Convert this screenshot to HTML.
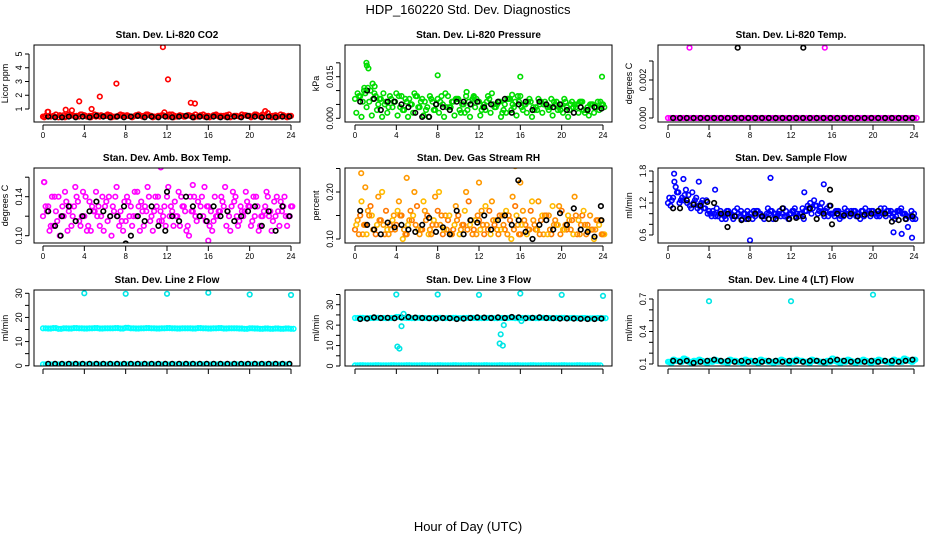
<!DOCTYPE html>
<html><head><meta charset="utf-8"><style>
html,body{margin:0;padding:0;background:#fff;}
svg{display:block;font-family:"Liberation Sans",sans-serif;}
</style></head><body>
<svg id="chart" width="936" height="540" viewBox="0 0 936 540">
<text x="468" y="14" text-anchor="middle" font-size="13">HDP_160220  Std. Dev. Diagnostics</text>
<text x="468" y="531" text-anchor="middle" font-size="13">Hour of Day (UTC)</text>
</svg>
<script>
// ---- data ----
const xTickLabels = [0,4,8,12,16,20,24];
// Panel 1 CO2
const co2RedA = [0.45,0.8,0.5,0.4,0.55,0.6,0.5,0.45,0.55,0.5,0.6,0.45,0.5,0.55,0.45,0.6,0.5,0.45,0.55,0.5,0.6,0.5,0.45,0.55,0.5,0.6,0.45,0.5,0.55,0.5,0.45,0.6,0.5,0.55,0.45,0.5,0.6,0.5,0.45,0.55,0.5,0.6,0.45,0.85,0.5,0.55,0.6,0.45,0.5];
const co2RedB = [0.5,0.45,0.6,0.5,0.45,0.55,0.5,0.6,0.45,0.5,0.55,0.5,0.6,0.45,0.5,0.55,0.5,0.45,0.6,0.5,0.55,0.45,0.5,0.75,0.6,0.5,0.55,0.45,0.5,0.6,0.55,0.5,0.45,0.6,0.5,0.55,0.45,0.5,0.6,0.5,0.45,0.55,0.6,0.7,0.5,0.45,0.55,0.5];
const co2RedC = [0.4,0.5,0.45,0.55,0.4,0.5,0.45,0.6,0.5,0.4,0.45,0.55,0.5,0.4,0.45,0.5,0.55,0.4,0.5,0.45,0.6,0.4,0.5,0.55,0.45,0.4,0.5,0.45,0.55,0.4,0.5,0.45,0.4,0.55,0.5,0.45,0.4,0.5,0.45,0.55,0.4,0.6,0.5,0.45,0.4,0.5,0.45,0.4];
const co2Black = [0.45,0.4,0.4,0.45,0.4,0.45,0.4,0.5,0.45,0.4,0.45,0.4,0.45,0.5,0.4,0.45,0.4,0.45,0.4,0.45,0.5,0.4,0.45,0.4,0.45,0.4,0.4,0.45,0.4,0.5,0.45,0.4,0.45,0.4,0.45,0.45];
const co2OutHour = [0.45,2.2,2.8,3.5,4.7,5.5,7.1,11.6,12.1,14.3,14.7];
const co2OutVal = [0.8,0.95,0.9,1.55,1.0,1.9,2.85,5.5,3.15,1.45,1.4];
// Panel 2 pressure
const presA = [0.007,0.008,0.009,0.01,0.008,0.007,0.006,0.007,0.009,0.008,0.006,0.005,0.008,0.007,0.004,0.006,0.007,0.005,0.008,0.006,0.007,0.005,0.006,0.008,0.006,0.005,0.007,0.004,0.006,0.005,0.007,0.006,0.008,0.005,0.006,0.004,0.006,0.005,0.007,0.006,0.005,0.004,0.006,0.005,0.006,0.004,0.005,0.006,0.005];
const presB = [0.009,0.006,0.011,0.007,0.005,0.009,0.004,0.006,0.008,0.003,0.007,0.009,0.004,0.006,0.008,0.003,0.006,0.009,0.004,0.007,0.002,0.008,0.005,0.007,0.003,0.006,0.009,0.005,0.002,0.007,0.005,0.008,0.003,0.006,0.004,0.007,0.005,0.003,0.006,0.004,0.007,0.003,0.005,0.006,0.002,0.005,0.004,0.006];
const presC = [0.002,0.0005,0.004,0.001,0.003,0.0005,0.002,0.004,0.001,0.003,0.0005,0.002,0.004,0.001,0.0005,0.003,0.002,0.0005,0.004,0.001,0.003,0.002,0.0005,0.004,0.001,0.003,0.002,0.004,0.0005,0.002,0.003,0.001,0.004,0.002,0.0005,0.003,0.002,0.004,0.001,0.003,0.002,0.0005,0.004,0.002,0.003,0.001,0.002,0.003,0.004];
const presD = [0.008,0.01,0.006,0.009,0.007,0.005,0.008,0.006,0.004,0.007,0.005,0.008,0.006,0.003,0.007,0.005,0.008,0.004,0.006,0.007,0.005,0.003,0.007,0.006,0.004,0.008,0.005,0.006,0.003,0.007,0.004,0.006,0.005,0.007,0.003,0.005,0.006,0.004,0.005,0.003,0.006,0.005,0.004,0.006,0.003,0.005,0.004,0.005];
const presBlack = [0.006,0.01,0.007,0.003,0.006,0.006,0.005,0.004,0.002,0.0005,0.0005,0.005,0.004,0.003,0.006,0.006,0.005,0.006,0.004,0.005,0.006,0.007,0.002,0.005,0.006,0.003,0.006,0.005,0.004,0.005,0.003,0.002,0.004,0.003,0.004,0.0035];
const presOutHour = [1.1,1.15,1.3,1.7,1.9,0.9,8,10.8,16,23.9,11.5,15.2];
const presOutVal = [0.020,0.019,0.018,0.0125,0.0115,0.011,0.0155,0.0095,0.015,0.015,0.0075,0.0085];
// Panel 3 Li-820 temp
const tempA = [0,0,0,0,0,0,0,0,0,0,0,0,0,0,0,0,0,0,0,0,0,0,0,0,0,0,0,0,0,0,0,0,0,0,0,0,0,0,0,0,0,0,0,0,0,0,0,0,0];
const tempB = [0,0,0,0,0,0,0,0,0,0,0,0,0,0,0,0,0,0,0,0,0,0,0,0,0,0,0,0,0,0,0,0,0,0,0,0,0,0,0,0,0,0,0,0,0,0,0,0,0];
const tempBlack = [0,0,0,0,0,0,0,0,0,0,0,0,0,0,0,0,0,0,0,0,0,0,0,0,0,0,0,0,0,0,0,0,0,0,0,0];
const tempOutHour = [2.1,15.3];
const tempOutVal = [0.0037,0.0037];
const tempBlkOutHour = [6.8,13.2];
const tempBlkOutVal = [0.0037,0.0037];
// Panel 4 box temp
const boxA = [0.12,0.13,0.11,0.14,0.12,0.125,0.13,0.115,0.12,0.135,0.125,0.11,0.13,0.12,0.14,0.125,0.115,0.13,0.12,0.135,0.125,0.12,0.13,0.115,0.14,0.125,0.12,0.13,0.11,0.125,0.135,0.12,0.13,0.115,0.125,0.13,0.12,0.135,0.115,0.125,0.13,0.12,0.11,0.13,0.125,0.12,0.135,0.12,0.13];
const boxB = [0.13,0.11,0.125,0.12,0.135,0.11,0.14,0.12,0.105,0.13,0.12,0.14,0.115,0.13,0.12,0.105,0.135,0.12,0.13,0.11,0.14,0.125,0.115,0.13,0.12,0.135,0.11,0.125,0.14,0.12,0.13,0.115,0.125,0.12,0.14,0.11,0.13,0.12,0.125,0.135,0.115,0.13,0.12,0.14,0.115,0.125,0.13,0.12];
const boxC = [0.155,0.105,0.14,0.1,0.145,0.13,0.15,0.11,0.14,0.105,0.145,0.12,0.135,0.1,0.15,0.115,0.14,0.11,0.145,0.125,0.15,0.105,0.14,0.12,0.15,0.11,0.145,0.13,0.1,0.14,0.12,0.15,0.11,0.14,0.125,0.15,0.105,0.14,0.13,0.145,0.11,0.14,0.12,0.145,0.105,0.14,0.125,0.11,0.13];
const boxD = [0.125,0.14,0.115,0.13,0.105,0.12,0.135,0.145,0.11,0.125,0.13,0.105,0.14,0.125,0.11,0.135,0.12,0.145,0.105,0.13,0.115,0.14,0.125,0.11,0.13,0.12,0.14,0.105,0.125,0.115,0.14,0.13,0.105,0.12,0.135,0.125,0.145,0.11,0.12,0.13,0.14,0.105,0.125,0.12,0.135,0.11,0.14,0.12];
const boxBlack = [0.125,0.11,0.12,0.13,0.115,0.12,0.125,0.135,0.125,0.12,0.12,0.13,0.1,0.12,0.115,0.13,0.11,0.105,0.12,0.115,0.14,0.13,0.12,0.115,0.13,0.12,0.125,0.115,0.12,0.125,0.13,0.11,0.125,0.105,0.13,0.12];
const boxOutHour = [0.1,11.4,16,14.5];
const boxOutVal = [0.155,0.17,0.095,0.152];
const boxBlkOutHour = [1.7,8,12];
const boxBlkOutVal = [0.1,0.092,0.145];
// Panel 5 RH
const rhA = [0.12,0.15,0.13,0.17,0.11,0.14,0.16,0.12,0.13,0.15,0.11,0.14,0.17,0.12,0.15,0.13,0.16,0.11,0.14,0.12,0.15,0.13,0.18,0.12,0.14,0.11,0.16,0.13,0.15,0.12,0.14,0.17,0.11,0.13,0.16,0.12,0.14,0.15,0.11,0.13,0.16,0.12,0.14,0.11,0.15,0.13,0.12,0.14,0.11];
const rhB = [0.14,0.11,0.16,0.12,0.19,0.13,0.11,0.15,0.18,0.12,0.14,0.2,0.11,0.16,0.12,0.19,0.13,0.15,0.11,0.17,0.12,0.2,0.14,0.11,0.16,0.13,0.18,0.12,0.15,0.11,0.19,0.13,0.16,0.12,0.14,0.18,0.11,0.15,0.13,0.17,0.12,0.14,0.19,0.11,0.13,0.15,0.12,0.14];
const rhC = [0.13,0.18,0.11,0.15,0.13,0.2,0.12,0.14,0.16,0.1,0.13,0.15,0.12,0.18,0.11,0.14,0.2,0.12,0.15,0.13,0.11,0.16,0.13,0.14,0.12,0.17,0.11,0.14,0.12,0.16,0.1,0.15,0.13,0.11,0.18,0.12,0.15,0.11,0.17,0.13,0.12,0.15,0.11,0.14,0.16,0.12,0.1,0.13,0.11];
const rhD = [0.11,0.13,0.15,0.12,0.14,0.11,0.13,0.12,0.15,0.11,0.16,0.13,0.12,0.14,0.11,0.13,0.15,0.12,0.11,0.14,0.13,0.12,0.11,0.15,0.13,0.12,0.14,0.11,0.13,0.15,0.12,0.11,0.14,0.12,0.13,0.11,0.15,0.12,0.14,0.11,0.13,0.12,0.15,0.13,0.11,0.12,0.14,0.11];
const rhBlack = [0.16,0.13,0.12,0.11,0.135,0.125,0.13,0.12,0.115,0.13,0.145,0.115,0.125,0.11,0.16,0.11,0.14,0.135,0.15,0.12,0.14,0.15,0.13,0.14,0.115,0.1,0.13,0.14,0.12,0.155,0.13,0.165,0.12,0.115,0.105,0.14];
const rhOutHour = [0.6,1,5,12,15.5,16];
const rhOutVal = [0.24,0.21,0.23,0.22,0.255,0.22];
const rhBlkOutHour = [15.8,23.8];
const rhBlkOutVal = [0.225,0.17];
// Panel 6 sample flow
const sfA = [1.2,1.3,1.4,1.25,1.35,1.2,1.15,1.1,1.05,1.0,1.0,0.95,1.0,1.05,0.95,1.0,1.0,0.95,1.0,0.95,1.05,1.0,0.95,1.05,1.0,0.95,1.0,1.05,1.0,1.15,1.2,1.1,1.0,1.05,1.0,1.05,1.0,1.0,1.05,1.0,1.05,1.0,1.0,1.05,1.0,1.05,1.0,0.95,1.0];
const sfB = [1.15,1.5,1.25,1.45,1.1,1.3,1.2,1.25,0.95,1.1,0.9,1.05,0.95,1.1,0.9,1.05,0.9,1.05,0.95,1.1,0.9,1.0,1.1,0.9,1.05,0.95,0.9,1.1,1.25,1.05,0.95,1.15,0.95,0.9,1.1,0.95,1.05,0.9,1.1,0.95,1.0,1.1,0.95,1.05,0.95,1.1,0.9,1.05];
const sfC = [1.3,1.6,1.2,1.35,1.15,1.25,1.05,1.1,1.0,0.95,1.05,0.9,1.0,0.95,1.05,0.9,1.0,1.05,0.95,1.0,1.05,0.95,1.0,0.95,1.05,1.0,1.1,1.15,1.1,1.0,1.05,0.95,1.0,1.05,0.95,1.0,1.05,1.0,0.95,1.05,1.0,0.95,1.1,1.0,0.9,1.05,1.0,0.95,0.9];
const sfD = [1.25,1.4,1.3,1.2,1.4,1.1,1.25,1.0,1.05,0.95,1.0,1.05,0.9,1.0,1.0,0.95,1.05,1.0,0.9,1.0,1.0,1.05,0.95,1.0,1.1,1.0,1.05,1.2,1.15,1.1,1.05,1.0,1.05,0.95,1.0,1.05,0.95,1.05,1.0,1.05,0.95,1.0,1.05,0.95,1.05,1.0,0.95,0.9];
const sfBlack = [1.1,1.1,1.25,1.17,1.15,1.22,1.2,1.0,1.0,0.95,0.88,0.9,1.0,0.95,0.9,0.9,1.1,0.9,0.92,0.95,1.1,0.9,1.0,1.15,1.0,0.97,1.0,0.95,0.98,1.0,1.05,1.0,0.85,0.88,0.9,0.95];
const sfOutHour = [0.6,1.5,3,4.6,8,10,13.3,22,22.8,23.4,23.8,15.2];
const sfOutVal = [1.75,1.65,1.6,1.45,0.5,1.67,1.4,0.65,0.62,0.75,0.55,1.55];
const sfBlkOutHour = [5.8,15.8,16];
const sfBlkOutVal = [0.75,1.45,0.8];
// Panel 7 line 2
const l2A = [15.5,15.4,15.6,15.3,15.5,15.4,15.6,15.5,15.4,15.5,15.6,15.4,15.5,15.5,15.6,15.4,15.7,15.5,15.4,15.5,15.6,15.5,15.4,15.5,15.6,15.5,15.4,15.5,15.5,15.4,15.6,15.5,15.4,15.5,15.6,15.4,15.5,15.5,15.4,15.3,15.5,15.4,15.3,15.4,15.3,15.4,15.3,15.4,15.3];
const l2B = [0.6,0.5,0.6,0.5,0.5,0.6,0.5,0.6,0.5,0.5,0.6,0.5,0.5,0.6,0.5,0.5,0.6,0.5,0.5,0.6,0.5,0.5,0.6,0.5,0.5,0.6,0.5,0.5,0.6,0.5,0.5,0.6,0.5,0.5,0.6,0.5,0.5,0.6,0.5,0.5,0.6,0.5,0.5,0.6,0.5,0.5,0.6,0.5];
const l2Black = [0.8,0.8,0.8,0.8,0.8,0.8,0.8,0.8,0.8,0.8,0.8,0.8,0.8,0.8,0.8,0.8,0.8,0.8,0.8,0.8,0.8,0.8,0.8,0.8,0.8,0.8,0.8,0.8,0.8,0.8,0.8,0.8,0.8,0.8,0.8,0.8];
const l2OutHour = [4,8,12,16,20,24];
const l2OutVal = [30,29.8,29.8,30.2,29.5,29.3];
// Panel 8 line 3
const l3A = [23.5,23.6,23.4,23.5,23.6,23.5,23.4,23.5,24,23.6,23.5,23.4,23.6,23.5,23.4,23.5,23.6,23.4,23.5,23.6,23.4,23.5,23.6,23.5,23.4,23.5,23.6,23.4,23.5,23.5,23.6,23.4,23.5,23.6,23.5,23.4,23.6,23.5,23.4,23.5,23.6,23.4,23.5,23.4,23.5,23.3,23.4,23.5,23.4];
const l3B = [0.3,0.4,0.3,0.3,0.4,0.3,0.3,0.4,0.3,0.3,0.4,0.3,0.3,0.4,0.3,0.3,0.4,0.3,0.3,0.4,0.3,0.3,0.4,0.3,0.3,0.4,0.3,0.3,0.4,0.3,0.3,0.4,0.3,0.3,0.4,0.3,0.3,0.4,0.3,0.3,0.4,0.3,0.3,0.4,0.3,0.3,0.4,0.3];
const l3Black = [23,23.2,23.8,23.5,23.6,23.4,23.8,24,23.7,23.5,23.4,23.2,23.5,23.4,23,23.2,23.5,23.8,23.7,23.5,23.8,23.5,24,23.8,23.4,23.6,23.8,23.5,23.4,23.2,23.3,23.2,23.1,23,23,23.2];
const l3OutHour = [4,4.1,4.3,4.5,4.7,8,12,14.0,14.1,14.3,14.4,16,16.1,20,24];
const l3OutVal = [35,9.5,8.5,19.5,25.5,35,34.8,11,15.5,10,20,35.5,22,34.8,34.3];
// Panel 9 line 4
const l4A = [0.12,0.14,0.13,0.15,0.12,0.13,0.14,0.12,0.13,0.14,0.13,0.12,0.14,0.13,0.12,0.14,0.13,0.12,0.14,0.13,0.12,0.13,0.14,0.12,0.13,0.14,0.13,0.12,0.14,0.13,0.12,0.13,0.15,0.12,0.13,0.14,0.12,0.13,0.14,0.12,0.13,0.14,0.13,0.12,0.14,0.13,0.15,0.13,0.14];
const l4B = [0.11,0.13,0.12,0.14,0.11,0.12,0.13,0.11,0.12,0.13,0.12,0.11,0.13,0.12,0.11,0.13,0.12,0.11,0.13,0.12,0.11,0.12,0.13,0.11,0.12,0.13,0.12,0.11,0.13,0.12,0.11,0.12,0.13,0.11,0.12,0.13,0.11,0.12,0.13,0.11,0.12,0.13,0.12,0.11,0.13,0.12,0.14,0.12];
const l4Black = [0.13,0.12,0.13,0.11,0.12,0.13,0.14,0.13,0.13,0.12,0.13,0.12,0.13,0.12,0.13,0.13,0.12,0.13,0.13,0.12,0.13,0.13,0.12,0.13,0.14,0.13,0.12,0.13,0.12,0.13,0.12,0.13,0.13,0.12,0.13,0.14];
const l4OutHour = [4,12,20];
const l4OutVal = [0.68,0.68,0.74];

// ---- layout ----
const cols = [{bl:34,br:300,x0:43,x24:291},{bl:345,br:612,x0:355,x24:603},{bl:658,br:924,x0:668,x24:914}];
const rows = [{bt:45,bb:122},{bt:168,bb:243},{bt:290,bb:366}];
const S = 'http://www.w3.org/2000/svg';
const svg = document.getElementById('chart');
function mk(tag, attrs, parent){const e=document.createElementNS(S,tag);for(const k in attrs)e.setAttribute(k,attrs[k]);(parent||svg).appendChild(e);return e;}

const panels = [
 {title:'Stan. Dev. Li-820 CO2',ylab:'Licor ppm',c:0,r:0,v0:1,p0:109,v1:5,p1:54,ticks:[1,2,3,4,5],labels:[1,2,3,4,5],fmt:v=>String(v),
  series:[[co2RedA,0,'#ff0000'],[co2RedB,0.25,'#ff0000'],[co2RedC,0.125,'#ff0000']],blk:co2Black,out:[[co2OutHour,co2OutVal,'#ff0000']]},
 {title:'Stan. Dev. Li-820 Pressure',ylab:'kPa',c:1,r:0,v0:0,p0:118.3,v1:0.015,p1:76.7,ticks:[0,0.005,0.01,0.015,0.02],labels:[0,0.015],fmt:v=>v.toFixed(3),
  series:[[presA,0,'#00dd00'],[presB,0.25,'#00dd00'],[presC,0.125,'#00dd00'],[presD,0.375,'#00dd00']],blk:presBlack,out:[[presOutHour,presOutVal,'#00dd00']]},
 {title:'Stan. Dev. Li-820 Temp.',ylab:'degrees C',c:2,r:0,v0:0,p0:118,v1:0.002,p1:80,ticks:[0,0.001,0.002,0.003],labels:[0,0.002],fmt:v=>v.toFixed(3),
  series:[[tempA,0,'#ff00ff'],[tempB,0.25,'#ff00ff']],blk:tempBlack,out:[[tempOutHour,tempOutVal,'#ff00ff'],[tempBlkOutHour,tempBlkOutVal,'#000']]},
 {title:'Stan. Dev. Amb. Box Temp.',ylab:'degrees C',c:0,r:1,v0:0.10,p0:235.7,v1:0.14,p1:196.7,ticks:[0.10,0.12,0.14,0.16],labels:[0.10,0.14],fmt:v=>v.toFixed(2),
  series:[[boxA,0,'#ff00ff'],[boxB,0.25,'#ff00ff'],[boxC,0.125,'#ff00ff'],[boxD,0.375,'#ff00ff']],blk:boxBlack,out:[[boxOutHour,boxOutVal,'#ff00ff'],[boxBlkOutHour,boxBlkOutVal,'#000']]},
 {title:'Stan. Dev. Gas Stream RH',ylab:'percent',c:1,r:1,v0:0.10,p0:239,v1:0.20,p1:192,ticks:[0.10,0.15,0.20,0.25],labels:[0.10,0.20],fmt:v=>v.toFixed(2),
  series:[[rhA,0,'#ff7700'],[rhB,0.25,'#ff9900'],[rhC,0.125,'#ffbb00'],[rhD,0.375,'#ff8800']],blk:rhBlack,out:[[rhOutHour,rhOutVal,'#ff9900'],[rhBlkOutHour,rhBlkOutVal,'#000']]},
 {title:'Stan. Dev. Sample Flow',ylab:'ml/min',c:2,r:1,v0:0.6,p0:235,v1:1.8,p1:171,ticks:[0.6,0.8,1.0,1.2,1.4,1.6,1.8],labels:[0.6,1.2,1.8],fmt:v=>v.toFixed(1),
  series:[[sfA,0,'#0000ff'],[sfB,0.25,'#0000ff'],[sfC,0.125,'#0000ff'],[sfD,0.375,'#0000ff']],blk:sfBlack,out:[[sfOutHour,sfOutVal,'#0000ff'],[sfBlkOutHour,sfBlkOutVal,'#000']]},
 {title:'Stan. Dev. Line 2 Flow',ylab:'ml/min',c:0,r:2,v0:0,p0:365.7,v1:30,p1:293.3,ticks:[0,5,10,15,20,25,30],labels:[0,10,20,30],fmt:v=>String(v),
  series:[[l2A,0,'#00ffff'],[l2B,0.25,'#00ffff'],[l2A,0.25,'#00ffff'],[l2B,0,'#00ffff']],blk:l2Black,out:[[l2OutHour,l2OutVal,'#00e5e5']]},
 {title:'Stan. Dev. Line 3 Flow',ylab:'ml/min',c:1,r:2,v0:0,p0:366,v1:30,p1:304.7,ticks:[0,5,10,15,20,25,30,35],labels:[0,10,20,30],fmt:v=>String(v),
  series:[[l3A,0,'#00ffff'],[l3B,0.25,'#00ffff'],[l3B,0,'#00ffff'],[l3A,0.25,'#00ffff']],blk:l3Black,out:[[l3OutHour,l3OutVal,'#00e5e5']]},
 {title:'Stan. Dev. Line 4 (LT) Flow',ylab:'ml/min',c:2,r:2,v0:0.1,p0:364,v1:0.7,p1:299,ticks:[0.1,0.2,0.3,0.4,0.5,0.6,0.7],labels:[0.1,0.4,0.7],fmt:v=>v.toFixed(1),
  series:[[l4A,0,'#00ffff'],[l4B,0.25,'#00ffff'],[l4A,0.125,'#00ffff'],[l4B,0.375,'#00ffff']],blk:l4Black,out:[[l4OutHour,l4OutVal,'#00e5e5']]}
];

panels.forEach((p,pi)=>{
  const C=cols[p.c], R=rows[p.r];
  const xs = h => C.x0 + (C.x24-C.x0)*h/24;
  const ys = v => p.p0 + (p.p1-p.p0)*(v-p.v0)/(p.v1-p.v0);
  const g = mk('g',{});
  
  
  const clipId='clip'+pi;
  const cp=mk('clipPath',{id:clipId},g); mk('rect',{x:C.bl,y:R.bt,width:C.br-C.bl,height:R.bb-R.bt},cp);
  const t=mk('text',{x:(C.bl+C.br)/2,y:R.bt-7,'text-anchor':'middle','font-size':'10','font-weight':'bold'},g);
  t.textContent=p.title;
  
  
  const yl=mk('text',{x:0,y:0,'text-anchor':'middle','font-size':'9',transform:`translate(${C.bl-26},${(R.bt+R.bb)/2}) rotate(-90)`},g);
  yl.textContent=p.ylab;
  
  
  const inT=p.ticks.filter(v=>ys(v)>=R.bt-1 && ys(v)<=R.bb+1);
  mk('line',{x1:C.bl-5,x2:C.bl-5,y1:ys(inT[0]),y2:ys(inT[inT.length-1]),stroke:'#000','stroke-width':1},g);
  inT.forEach(v=>{
    const ln=mk('line',{x1:C.bl-9,x2:C.bl-5,y1:ys(v),y2:ys(v),stroke:'#000','stroke-width':1},g);
    
    
  });
  p.labels.forEach(v=>{
    const tl=mk('text',{x:0,y:0,'text-anchor':'middle','font-size':'9',transform:`translate(${C.bl-12},${ys(v)}) rotate(-90)`},g);
    tl.textContent=p.fmt(v);
    
    
  });
  mk('line',{x1:xs(0),x2:xs(24),y1:R.bb+3,y2:R.bb+3,stroke:'#000','stroke-width':1},g);
  xTickLabels.forEach(h=>{
    const ln=mk('line',{x1:xs(h),x2:xs(h),y1:R.bb+3,y2:R.bb+8,stroke:'#000','stroke-width':1},g);
    
    
    if(p.r<2){
      const tl=mk('text',{x:xs(h),y:R.bb+16,'text-anchor':'middle','font-size':'8'},g);
      tl.textContent=String(h);
      
      
    }
  });
  const pg=mk('g',{'clip-path':`url(#${clipId})`,fill:'none','stroke-width':1.6},g);
  function dot(h,v,col){
    const c=mk('circle',{cx:xs(h).toFixed(1),cy:ys(v).toFixed(1),r:2.3,stroke:col},pg);
    
    
  }
  p.series.forEach(([vals,off,col])=>vals.forEach((v,i)=>dot(off+i*0.5,v,col)));
  p.blk.forEach((v,i)=>dot(0.5+i*0.667,v,'#000'));
  p.out.forEach(([hs,vs,col])=>hs.forEach((h,i)=>dot(h,vs[i],col)));
  const box=mk('rect',{x:C.bl,y:R.bt,width:C.br-C.bl,height:R.bb-R.bt,fill:'none',stroke:'#000','stroke-width':1},g);
  
  
});
</script>
</body></html>
